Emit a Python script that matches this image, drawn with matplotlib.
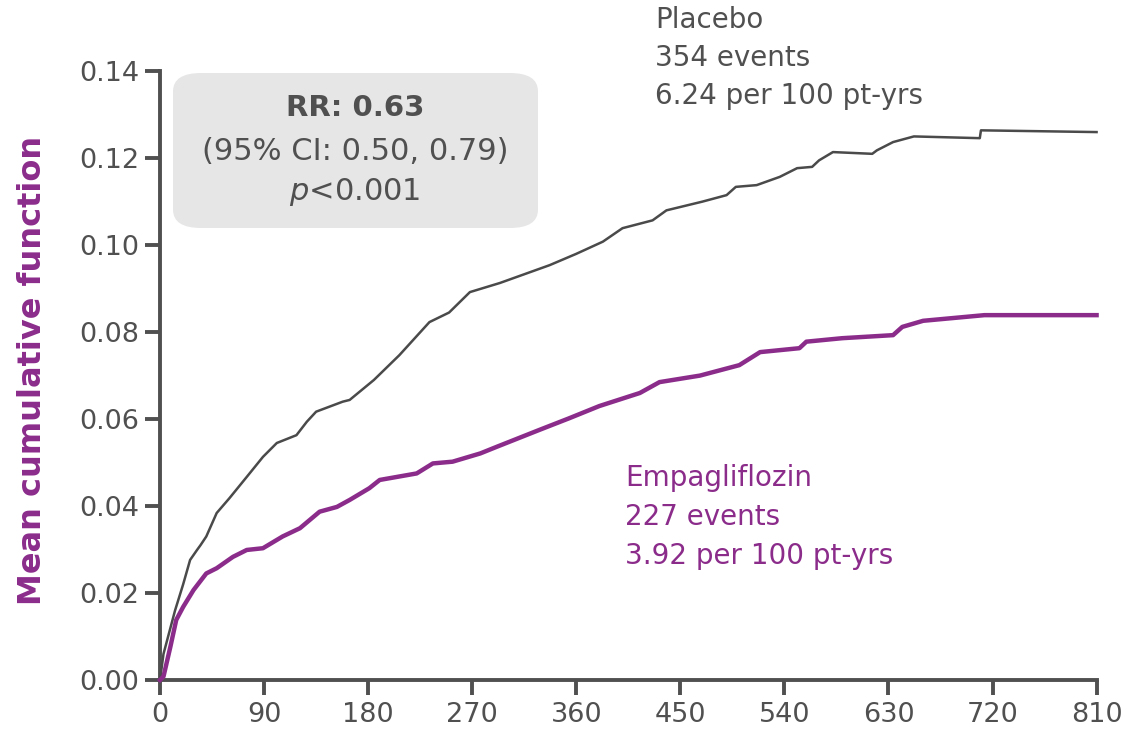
import matplotlib.pyplot as plt
from matplotlib.patches import FancyBboxPatch

# days vs mean cumulative function
placebo_days = [0, 3, 8, 13, 20, 26, 32, 35, 40, 49, 60, 75, 89, 101, 118, 127, 135, 158,
                164, 185, 207, 233, 250, 268, 294, 337, 360, 383, 400, 426, 438, 469, 490,
                498, 516, 536, 551, 564, 570, 582, 616, 620, 634, 652, 709, 710, 810]
placebo_mcf = [0.0, 0.006, 0.011, 0.016, 0.022, 0.0276, 0.0299, 0.031, 0.033, 0.0384, 0.0418,
               0.0467, 0.0513, 0.0545, 0.0563, 0.0594, 0.0617, 0.064, 0.0644, 0.069, 0.0747,
               0.0823, 0.0845, 0.0892, 0.0913, 0.0954, 0.098, 0.1008, 0.1039, 0.1057, 0.108,
               0.110, 0.1115, 0.1134, 0.1138, 0.1157, 0.1177, 0.118, 0.1195, 0.1214, 0.121,
               0.1218, 0.1237, 0.125, 0.1246, 0.1264, 0.126]

empa_days = [0, 3, 9, 14, 20, 29, 40, 49, 63, 75, 89, 106, 121, 138, 153, 164, 181, 190,
             222, 236, 253, 277, 291, 328, 354, 380, 415, 432, 467, 501, 519, 553, 559,
             590, 634, 642, 660, 713, 810]
empa_mcf = [0.0, 0.0008, 0.0077, 0.0138, 0.0168, 0.0207, 0.0245, 0.0257, 0.0283, 0.0299,
            0.0303, 0.033, 0.0349, 0.0387, 0.0398, 0.0414, 0.0441, 0.046, 0.0475, 0.0498,
            0.0502, 0.0521, 0.0536, 0.0575, 0.0602, 0.063, 0.066, 0.0685, 0.070, 0.0724,
            0.0754, 0.0763, 0.0778, 0.0786, 0.0793, 0.0812, 0.0826, 0.0839, 0.0839]

xticks = list(range(0, 811, 90))
yticks = [0.00, 0.02, 0.04, 0.06, 0.08, 0.10, 0.12, 0.14]

GREY = '#505050'
PURPLE = '#8b2c8b'
plt.rcParams['font.family'] = ['DejaVu Sans']

fig = plt.figure(figsize=(11.27, 7.34), dpi=100)
ax = fig.add_axes([0.142, 0.0736, 0.831, 0.8294])

ax.plot(placebo_days, placebo_mcf, color='#4a4a4a', lw=1.8, clip_on=False, zorder=3)
ax.plot(empa_days, empa_mcf, color=PURPLE, lw=3.2, clip_on=False, zorder=4)

ax.set_xlim(0, 810)
ax.set_ylim(0, 0.14)
ax.set_xticks(xticks)
ax.set_yticks(yticks)
ax.set_yticklabels([f'{v:.2f}' for v in yticks])
for s in ['top', 'right']:
    ax.spines[s].set_visible(False)
for s in ['left', 'bottom']:
    ax.spines[s].set_color(GREY)
    ax.spines[s].set_linewidth(2.8)
ax.tick_params(axis='both', colors=GREY, labelsize=19.5, width=2.8, length=11, pad=4)
ax.tick_params(axis='x', pad=5)

fig.text(33 / 1127, 1 - 370 / 734, 'Mean cumulative function', rotation=90, ha='center',
         va='center', color=PURPLE, fontsize=23, fontweight='bold')

# annotation box
box = FancyBboxPatch((173 / 1127, 1 - 228 / 734), (538 - 173) / 1127, (228 - 73) / 734,
                     boxstyle='round,pad=0,rounding_size=0.025', transform=fig.transFigure,
                     facecolor='#e6e6e6', edgecolor='none', zorder=0)
fig.patches.append(box)
cx = 355 / 1127
fig.text(cx, 1 - 108 / 734, 'RR: 0.63', ha='center', va='center', fontsize=21,
         fontweight='bold', color=GREY)
fig.text(cx, 1 - 152 / 734, '(95% CI: 0.50, 0.79)', ha='center', va='center', fontsize=22,
         color=GREY)
fig.text(cx, 1 - 192 / 734, r'$\it{p}$<0.001', ha='center', va='center', fontsize=22,
         color=GREY)

# group labels
for i, line in enumerate(['Placebo', '354 events', '6.24 per 100 pt-yrs']):
    fig.text(655 / 1127, 1 - (20 + 38 * i) / 734, line, ha='left', va='center',
             fontsize=20, color=GREY)
for i, line in enumerate(['Empagliflozin', '227 events', '3.92 per 100 pt-yrs']):
    fig.text(625 / 1127, 1 - (478 + 39 * i) / 734, line, ha='left', va='center',
             fontsize=20, color=PURPLE)

fig.savefig('out.png', dpi=100)
